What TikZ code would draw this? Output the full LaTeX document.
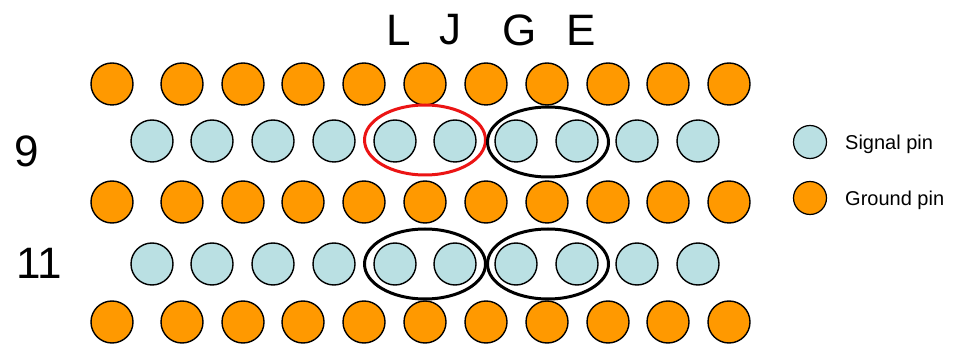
\documentclass[tikz,border=0pt]{standalone}
\usepackage{fontspec}
\setmainfont{Liberation Sans}
\usetikzlibrary{shapes.geometric}
\definecolor{gndc}{RGB}{255,153,0}
\definecolor{sigc}{RGB}{186,224,227}
\definecolor{redc}{RGB}{235,20,20}
\begin{document}
\begin{tikzpicture}[x=1pt,y=-1pt,
  gnd/.style={circle,draw=black,fill=gndc,minimum size=42pt,inner sep=0pt,line width=1.4pt},
  sig/.style={circle,draw=black,fill=sigc,minimum size=42pt,inner sep=0pt,line width=1.4pt},
  lgnd/.style={circle,draw=black,fill=gndc,minimum size=33pt,inner sep=0pt,line width=1.2pt},
  lsig/.style={circle,draw=black,fill=sigc,minimum size=33pt,inner sep=0pt,line width=1.2pt},
  pair/.style={ellipse,draw=black,minimum width=121pt,minimum height=70pt,inner sep=0pt,line width=3pt},
  redpair/.style={pair,draw=redc},
  biglab/.style={font=\fontsize{44}{44}\selectfont,inner sep=0pt},
  leglab/.style={font=\fontsize{20}{20}\selectfont,anchor=west,inner sep=0pt}]
\useasboundingbox (0,0) rectangle (957,344);
% ground rows
\foreach \r/\y in {1/84,2/202,3/322}{
  \foreach \x [count=\i] in {112,182,243,303,364,425,486,547,608,668,729}{
    \node[gnd] (g\r-\i) at (\x,\y) {};
  }
}
% signal rows
\foreach \r/\y in {1/141,2/264}{
  \foreach \x [count=\i] in {152,212,273,334,395,455,516,577,637,698}{
    \node[sig] (s\r-\i) at (\x,\y) {};
  }
}
% pair ellipses
\node[redpair] (p1) at (425,140) {};
\node[pair] (p2) at (548,142) {};
\node[pair] (p3) at (425,264) {};
\node[pair] (p4) at (548,264) {};
% top labels
\node[biglab] (lL) at (399,30) {L};
\node[biglab] (lJ) at (450,30) {J};
\node[biglab] (lG) at (520,30) {G};
\node[biglab] (lE) at (581,30) {E};
% row labels
\node[biglab] (r9) at (27,151) {9};
\node[biglab] (r11) at (39,263) {11};
% legend
\node[lsig] (ls) at (810,142) {};
\node[lgnd] (lg) at (810,198) {};
\node[leglab] (lst) at (845,144) {Signal pin};
\node[leglab] (lgt) at (845,200) {Ground pin};
\end{tikzpicture}
\end{document}
